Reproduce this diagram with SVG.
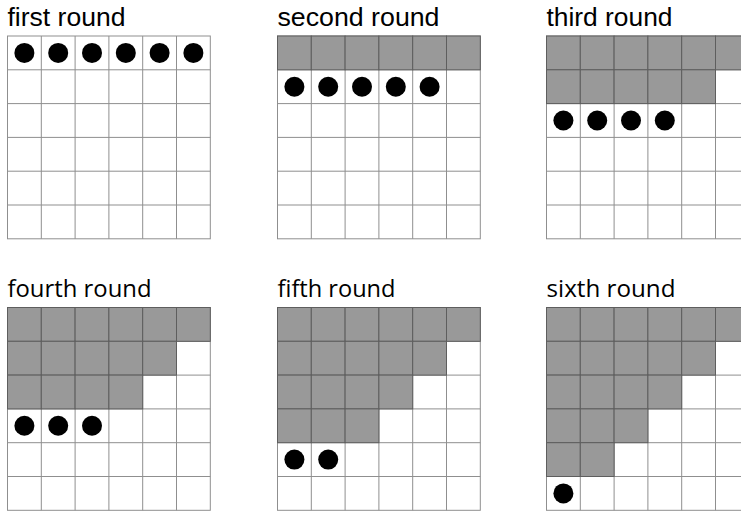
<svg xmlns="http://www.w3.org/2000/svg" xmlns:xlink="http://www.w3.org/1999/xlink" width="741" height="512" viewBox="0 0 741 512">
<style>
.lbl1{font-family:"Liberation Sans",Arial,sans-serif;font-size:25px;fill:#000}
.lbl2{font-family:"Open Sans","Noto Sans",sans-serif;font-size:23px;fill:#000}
.ln{stroke:#8f8f8f;stroke-width:1;fill:none}
.gc{fill:#999999;stroke:#5e5e5e;stroke-width:1}
.dot{fill:#000}
</style>
<defs>
<g id="grid">
<rect x="0" y="0" width="202.8" height="202.8" fill="#fff" class="ln"/>
<path class="ln" d="M33.8 0V202.8M67.6 0V202.8M101.4 0V202.8M135.2 0V202.8M169 0V202.8M0 33.8H202.8M0 67.6H202.8M0 101.4H202.8M0 135.2H202.8M0 169H202.8"/>
</g>
<rect id="c" width="33.8" height="33.8" class="gc"/>
<circle id="d" r="10" class="dot"/>
<g id="r0"><use href="#c" x="0" y="0"/><use href="#c" x="33.8" y="0"/><use href="#c" x="67.6" y="0"/><use href="#c" x="101.4" y="0"/><use href="#c" x="135.2" y="0"/><use href="#c" x="169" y="0"/></g>
<g id="r1"><use href="#c" x="0" y="33.8"/><use href="#c" x="33.8" y="33.8"/><use href="#c" x="67.6" y="33.8"/><use href="#c" x="101.4" y="33.8"/><use href="#c" x="135.2" y="33.8"/></g>
<g id="r2"><use href="#c" x="0" y="67.6"/><use href="#c" x="33.8" y="67.6"/><use href="#c" x="67.6" y="67.6"/><use href="#c" x="101.4" y="67.6"/></g>
<g id="r3"><use href="#c" x="0" y="101.4"/><use href="#c" x="33.8" y="101.4"/><use href="#c" x="67.6" y="101.4"/></g>
<g id="r4"><use href="#c" x="0" y="135.2"/><use href="#c" x="33.8" y="135.2"/></g>
</defs>

<g id="round1" transform="translate(7.5,36)">
<text class="lbl1" x="0" y="-10" textLength="118" lengthAdjust="spacingAndGlyphs">first round</text>
<use href="#grid"/>
<use href="#d" x="16.9" y="16.9"/><use href="#d" x="50.7" y="16.9"/><use href="#d" x="84.5" y="16.9"/><use href="#d" x="118.3" y="16.9"/><use href="#d" x="152.1" y="16.9"/><use href="#d" x="185.9" y="16.9"/>
</g>

<g id="round2" transform="translate(277.5,36)">
<text class="lbl1" x="0" y="-10" textLength="162" lengthAdjust="spacingAndGlyphs">second round</text>
<use href="#grid"/>
<use href="#r0"/>
<use href="#d" x="16.9" y="50.7"/><use href="#d" x="50.7" y="50.7"/><use href="#d" x="84.5" y="50.7"/><use href="#d" x="118.3" y="50.7"/><use href="#d" x="152.1" y="50.7"/>
</g>

<g id="round3" transform="translate(546.5,36)">
<text class="lbl1" x="0" y="-10" textLength="126" lengthAdjust="spacingAndGlyphs">third round</text>
<use href="#grid"/>
<use href="#r0"/><use href="#r1"/>
<use href="#d" x="16.9" y="84.5"/><use href="#d" x="50.7" y="84.5"/><use href="#d" x="84.5" y="84.5"/><use href="#d" x="118.3" y="84.5"/>
</g>

<g id="round4" transform="translate(7.5,307.5)">
<text class="lbl2" x="0" y="-11" textLength="144" lengthAdjust="spacingAndGlyphs">fourth round</text>
<use href="#grid"/>
<use href="#r0"/><use href="#r1"/><use href="#r2"/>
<use href="#d" x="16.9" y="118.3"/><use href="#d" x="50.7" y="118.3"/><use href="#d" x="84.5" y="118.3"/>
</g>

<g id="round5" transform="translate(277.5,307.5)">
<text class="lbl2" x="0" y="-11" textLength="118" lengthAdjust="spacingAndGlyphs">fifth round</text>
<use href="#grid"/>
<use href="#r0"/><use href="#r1"/><use href="#r2"/><use href="#r3"/>
<use href="#d" x="16.9" y="152.1"/><use href="#d" x="50.7" y="152.1"/>
</g>

<g id="round6" transform="translate(546.5,307.5)">
<text class="lbl2" x="0" y="-11" textLength="129" lengthAdjust="spacingAndGlyphs">sixth round</text>
<use href="#grid"/>
<use href="#r0"/><use href="#r1"/><use href="#r2"/><use href="#r3"/><use href="#r4"/>
<use href="#d" x="16.9" y="185.9"/>
</g>
<g id="connectors"/>
</svg>
